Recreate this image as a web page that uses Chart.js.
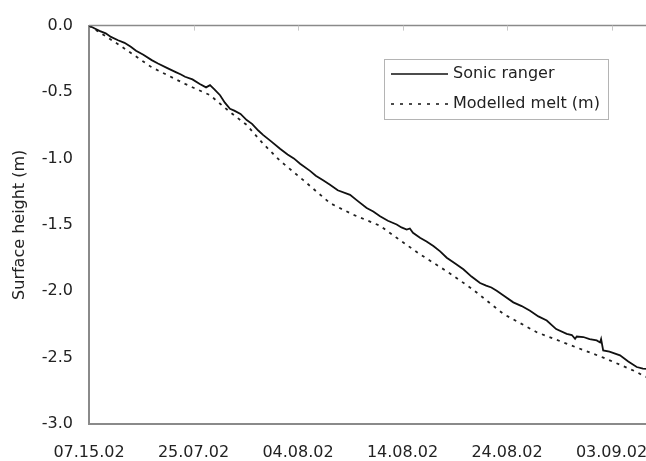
<!DOCTYPE html>
<html>
<head>
<meta charset="utf-8">
<script src="https://cdn.jsdelivr.net/npm/chart.js@4/dist/chart.umd.min.js"></script>
<style>
  html, body { margin: 0; padding: 0; background: #fff; }
  #wrap { width: 646px; height: 461px; overflow: hidden; }
</style>
</head>
<body>
<div id="wrap"><canvas id="meltcanvas" width="700" height="461"></canvas></div>
<script>
'use strict';
// days since 15 July 2002
const tickLabels = ['07.15.02', '25.07.02', '04.08.02', '14.08.02', '24.08.02', '03.09.02'];

const sonicDays = [0, 0.5, 1.0, 1.6, 2.1, 2.78, 3.4, 4.0, 4.5, 5.2, 6.0, 6.6, 7.5, 8.3, 8.8, 9.19, 9.9, 10.6,
  11.2, 11.58, 12.0, 12.54, 13.0, 13.49, 13.9, 14.5, 15.09, 15.6, 16.2, 16.65, 17.4, 18.28, 19.0, 19.6, 20.2,
  21.15, 21.7, 22.4, 23.06, 23.8, 24.98, 25.7, 26.57, 27.2, 27.85, 28.6, 29.44, 29.9, 30.4, 30.7, 31.0, 31.67,
  32.3, 32.95, 33.6, 34.23, 35.0, 35.82, 36.6, 37.42, 38.0, 38.5, 39.01, 39.8, 40.6, 41.4, 42.2, 43.0, 43.8,
  44.7, 45.71, 46.2, 46.51, 46.67, 47.3, 47.9, 48.58, 48.9, 49.0, 49.2, 49.8, 50.81, 51.6, 52.41, 53.0, 53.4];
const sonicHeight = [0, -0.02, -0.04, -0.058, -0.085, -0.11, -0.13, -0.16, -0.19, -0.22, -0.26, -0.285, -0.32,
  -0.35, -0.368, -0.385, -0.405, -0.44, -0.465, -0.448, -0.48, -0.524, -0.58, -0.626, -0.64, -0.665, -0.711,
  -0.74, -0.79, -0.823, -0.87, -0.927, -0.97, -1.0, -1.04, -1.094, -1.13, -1.165, -1.199, -1.24, -1.274, -1.32,
  -1.374, -1.40, -1.436, -1.47, -1.498, -1.52, -1.536, -1.528, -1.56, -1.598, -1.625, -1.66, -1.70, -1.748,
  -1.79, -1.835, -1.89, -1.938, -1.958, -1.972, -1.997, -2.04, -2.084, -2.112, -2.147, -2.19, -2.221, -2.285,
  -2.321, -2.33, -2.358, -2.341, -2.345, -2.36, -2.371, -2.386, -2.36, -2.446, -2.455, -2.483, -2.53, -2.571,
  -2.583, -2.585];

const modelDays = [0, 2.78, 6.0, 9.19, 11.58, 13.49, 15.09, 16.65, 18.28, 20.48, 23.06, 25.26, 27.85, 29.44,
  31.67, 34.23, 36.7, 39.65, 42.84, 46.03, 49.21, 52.41, 53.0, 53.4];
const modelMelt = [0, -0.14, -0.314, -0.439, -0.524, -0.651, -0.748, -0.888, -1.018, -1.162, -1.337, -1.423,
  -1.507, -1.598, -1.722, -1.85, -1.985, -2.171, -2.309, -2.405, -2.5, -2.608, -2.635, -2.648];

const FONT = 'DejaVu Sans';

function toPoints(xs, ys) {
  return xs.map((d, i) => ({ x: d, y: ys[i] }));
}

// top frame line + inset legend
const framePlugin = {
  id: 'frame',
  afterDraw(chart) {
    const c = chart.ctx;
    const a = chart.chartArea;
    const xs = chart.scales.x;
    c.save();
    c.strokeStyle = '#8a8a8a';
    c.lineWidth = 1.5;
    c.beginPath();
    c.moveTo(a.left, a.top);
    c.lineTo(a.right, a.top);
    c.stroke();
    c.strokeStyle = '#c8c8c8';
    c.lineWidth = 1;
    for (let i = 1; i < tickLabels.length; i++) {
      const px = Math.round(xs.getPixelForValue(i * 10)) + 0.5;
      c.beginPath();
      c.moveTo(px, a.top);
      c.lineTo(px, a.top + 5);
      c.stroke();
    }

    // legend
    c.strokeStyle = '#b4b4b4';
    c.lineWidth = 1;
    c.strokeRect(384.5, 59.5, 224, 60);
    c.strokeStyle = '#111';
    c.lineWidth = 1.6;
    c.beginPath();
    c.moveTo(391, 74);
    c.lineTo(448, 74);
    c.stroke();
    c.setLineDash([3, 6]);
    c.beginPath();
    c.moveTo(391, 104);
    c.lineTo(448, 104);
    c.stroke();
    c.setLineDash([]);
    c.fillStyle = '#222';
    c.font = '16px "' + FONT + '"';
    c.textBaseline = 'middle';
    c.fillText(chart.data.datasets[0].label, 453, 74);
    c.fillText(chart.data.datasets[1].label, 453, 104);
    c.restore();
  },
};

const ctx2d = document.getElementById('meltcanvas').getContext('2d');
const chart = new Chart(ctx2d, {
  type: 'line',
  data: {
    datasets: [
      {
        label: 'Sonic ranger',
        data: toPoints(sonicDays, sonicHeight),
        borderColor: '#111',
        borderWidth: 1.8,
        pointRadius: 0,
        tension: 0,
      },
      {
        label: 'Modelled melt (m)',
        data: toPoints(modelDays, modelMelt),
        borderColor: '#222',
        borderWidth: 1.8,
        borderDash: [3, 5],
        pointRadius: 0,
        tension: 0,
      },
    ],
  },
  options: {
    responsive: false,
    animation: false,
    devicePixelRatio: 1,
    layout: { padding: { top: 23, right: 20, left: 0, bottom: 0 } },
    plugins: {
      legend: { display: false },
      tooltip: { enabled: false },
    },
    scales: {
      x: {
        type: 'linear',
        min: 0,
        max: 56.55,
        afterFit: (s) => { s.height = 37; },
        grid: { display: false, drawTicks: false },
        border: { display: true, color: '#8a8a8a', width: 2 },
        ticks: {
          stepSize: 10,
          includeBounds: false,
          autoSkip: false,
          maxRotation: 0,
          padding: 19,
          color: '#222',
          font: { family: FONT, size: 16 },
          callback: (v) => (v % 10 === 0 ? tickLabels[v / 10] : ''),
        },
      },
      y: {
        min: -3,
        max: 0,
        afterFit: (s) => { s.width = 89; },
        grid: { display: false, drawTicks: false },
        border: { display: true, color: '#8a8a8a', width: 2 },
        ticks: {
          stepSize: 0.5,
          padding: 16,
          color: '#222',
          font: { family: FONT, size: 16 },
          callback: (v) => v.toFixed(1),
        },
        title: {
          display: true,
          text: 'Surface height (m)',
          color: '#222',
          font: { family: FONT, size: 16 },
          padding: { top: 10, bottom: 0 },
        },
      },
    },
  },
  plugins: [framePlugin],
});
</script>
</body>
</html>
